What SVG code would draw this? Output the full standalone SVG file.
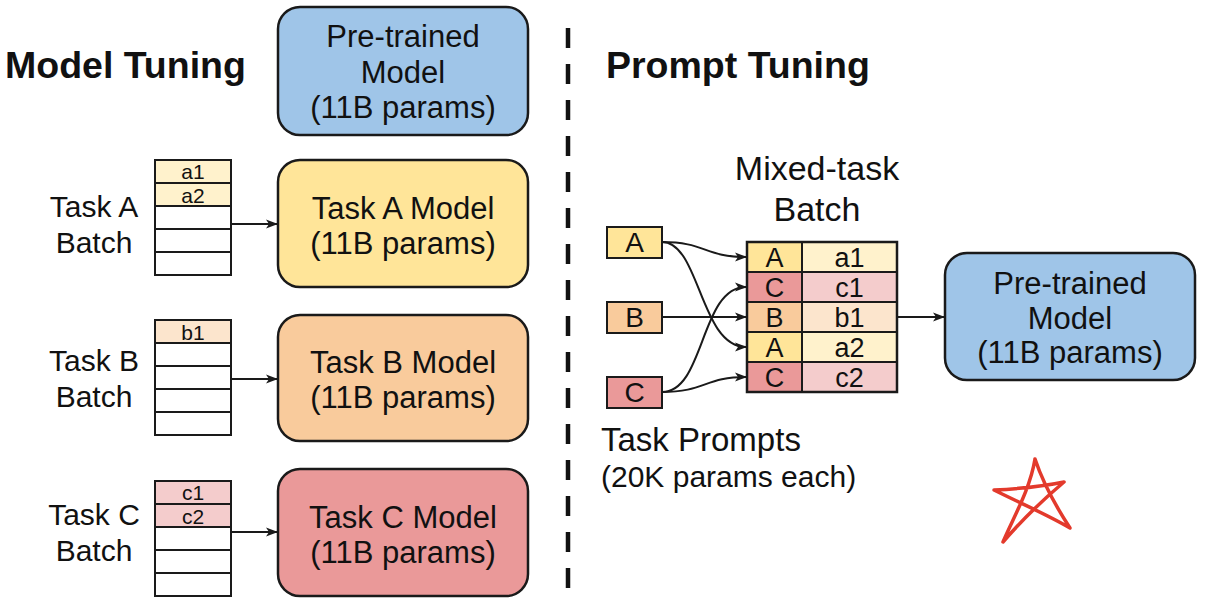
<svg xmlns="http://www.w3.org/2000/svg" width="1208" height="606" viewBox="0 0 1208 606">
<defs>
<style>
text{font-family:"Liberation Sans",Arial,sans-serif;fill:#111;}
.title{font-weight:bold;font-size:37.5px;}
.box{stroke:#1a1a1a;stroke-width:2.5;}
.mt{font-size:31px;text-anchor:middle;}
.lbl{font-size:30px;text-anchor:middle;}
.cell{stroke:#1a1a1a;stroke-width:2;}
.ct{font-size:21px;text-anchor:middle;}
.tt{font-size:27px;text-anchor:middle;}
.conn{fill:none;stroke:#1a1a1a;stroke-width:2;}
.blue{fill:#9fc5e8;}
.yel{fill:#ffe599;}
.ora{fill:#f9cb9c;}
.red{fill:#ea9999;}
.lyel{fill:#fff2cc;}
.lora{fill:#fce5cd;}
.lred{fill:#f4cccc;}
.white{fill:#ffffff;}
</style>
<marker id="arr" viewBox="0 0 12 10" refX="11" refY="5" markerWidth="12" markerHeight="10" markerUnits="userSpaceOnUse" orient="auto">
<path d="M0,0.5 L12,5 L0,9.5 L3,5 z" fill="#1a1a1a"/>
</marker>
</defs>
<rect width="1208" height="606" fill="#ffffff"/>

<text class="title" x="5" y="78">Model Tuning</text>
<text class="title" x="606" y="78">Prompt Tuning</text>

<line x1="568" y1="28" x2="568" y2="590" stroke="#111" stroke-width="4.5" stroke-dasharray="20 16"/>

<g id="pretrained-left">
<rect class="box blue" x="278" y="7" width="250" height="128" rx="22"/>
<text class="mt" x="403" y="47">Pre-trained</text>
<text class="mt" x="403" y="83">Model</text>
<text class="mt" x="403" y="118">(11B params)</text>
</g>

<g id="task-a-model">
<rect class="box yel" x="278" y="160" width="250" height="127" rx="22"/>
<text class="mt" x="403" y="219">Task A Model</text>
<text class="mt" x="403" y="254">(11B params)</text>
</g>
<g id="task-b-model">
<rect class="box ora" x="278" y="315" width="250" height="126" rx="22"/>
<text class="mt" x="403" y="373">Task B Model</text>
<text class="mt" x="403" y="408">(11B params)</text>
</g>
<g id="task-c-model">
<rect class="box red" x="278" y="469" width="250" height="127" rx="22"/>
<text class="mt" x="403" y="528">Task C Model</text>
<text class="mt" x="403" y="563">(11B params)</text>
</g>

<g id="task-a-batch">
<text class="lbl" x="94" y="217">Task A</text>
<text class="lbl" x="94" y="253">Batch</text>
<rect class="cell lyel" x="155" y="160" width="76" height="23"/>
<rect class="cell lyel" x="155" y="183" width="76" height="23"/>
<rect class="cell white" x="155" y="206" width="76" height="23"/>
<rect class="cell white" x="155" y="229" width="76" height="23"/>
<rect class="cell white" x="155" y="252" width="76" height="23"/>
<text class="ct" x="193" y="179">a1</text>
<text class="ct" x="193" y="203">a2</text>
</g>
<g id="task-b-batch">
<text class="lbl" x="94" y="371">Task B</text>
<text class="lbl" x="94" y="407">Batch</text>
<rect class="cell lora" x="155" y="320" width="76" height="23"/>
<rect class="cell white" x="155" y="343" width="76" height="23"/>
<rect class="cell white" x="155" y="366" width="76" height="23"/>
<rect class="cell white" x="155" y="389" width="76" height="23"/>
<rect class="cell white" x="155" y="412" width="76" height="23"/>
<text class="ct" x="193" y="340">b1</text>
</g>
<g id="task-c-batch">
<text class="lbl" x="94" y="525">Task C</text>
<text class="lbl" x="94" y="561">Batch</text>
<rect class="cell lred" x="155" y="481" width="76" height="23"/>
<rect class="cell lred" x="155" y="504" width="76" height="23"/>
<rect class="cell white" x="155" y="527" width="76" height="23"/>
<rect class="cell white" x="155" y="550" width="76" height="23"/>
<rect class="cell white" x="155" y="573" width="76" height="23"/>
<text class="ct" x="193" y="500">c1</text>
<text class="ct" x="193" y="524">c2</text>
</g>

<g id="prompt-a">
<rect class="cell yel" x="607" y="227" width="55" height="31"/>
<text class="tt" x="634.5" y="252" style="font-size:28px;">A</text>
</g>
<g id="prompt-b">
<rect class="cell ora" x="607" y="302" width="55" height="31"/>
<text class="tt" x="634.5" y="327" style="font-size:28px;">B</text>
</g>
<g id="prompt-c">
<rect class="cell red" x="607" y="377" width="55" height="31"/>
<text class="tt" x="634.5" y="402" style="font-size:28px;">C</text>
</g>

<g id="task-prompts-label">
<text x="601" y="451" style="font-size:33px;">Task Prompts</text>
<text x="601" y="487" style="font-size:30px;">(20K params each)</text>
</g>

<g id="mixed-batch">
<text class="mt" x="817" y="180" style="font-size:34px;">Mixed-task</text>
<text class="mt" x="817" y="221" style="font-size:34px;">Batch</text>
<rect class="cell yel" x="747" y="242" width="55" height="30"/>
<rect class="cell lyel" x="802" y="242" width="95" height="30"/>
<rect class="cell red" x="747" y="272" width="55" height="30"/>
<rect class="cell lred" x="802" y="272" width="95" height="30"/>
<rect class="cell ora" x="747" y="302" width="55" height="30"/>
<rect class="cell lora" x="802" y="302" width="95" height="30"/>
<rect class="cell yel" x="747" y="332" width="55" height="30"/>
<rect class="cell lyel" x="802" y="332" width="95" height="30"/>
<rect class="cell red" x="747" y="362" width="55" height="30"/>
<rect class="cell lred" x="802" y="362" width="95" height="30"/>
<rect x="747" y="242" width="150" height="150" fill="none" stroke="#1a1a1a" stroke-width="2.5"/>
<text class="tt" x="774.5" y="267">A</text><text class="tt" x="849.5" y="267">a1</text>
<text class="tt" x="774.5" y="297">C</text><text class="tt" x="849.5" y="297">c1</text>
<text class="tt" x="774.5" y="327">B</text><text class="tt" x="849.5" y="327">b1</text>
<text class="tt" x="774.5" y="357">A</text><text class="tt" x="849.5" y="357">a2</text>
<text class="tt" x="774.5" y="387">C</text><text class="tt" x="849.5" y="387">c2</text>
</g>

<g id="pretrained-right">
<rect class="box blue" x="945" y="253" width="250" height="127" rx="22"/>
<text class="mt" x="1070" y="294">Pre-trained</text>
<text class="mt" x="1070" y="329">Model</text>
<text class="mt" x="1070" y="363">(11B params)</text>
</g>

<g id="connectors">
<line class="conn" x1="231" y1="224" x2="277" y2="224" marker-end="url(#arr)"/>
<line class="conn" x1="231" y1="379" x2="277" y2="379" marker-end="url(#arr)"/>
<line class="conn" x1="231" y1="532" x2="277" y2="532" marker-end="url(#arr)"/>
<path class="conn" d="M662,242 C705,242 705,257 746,257" marker-end="url(#arr)"/>
<path class="conn" d="M662,242 C700,242 700,347 746,347" marker-end="url(#arr)"/>
<line class="conn" x1="662" y1="317" x2="746" y2="317" marker-end="url(#arr)"/>
<path class="conn" d="M662,392 C705,392 700,287 746,287" marker-end="url(#arr)"/>
<path class="conn" d="M662,392 C705,392 705,377 746,377" marker-end="url(#arr)"/>
<line class="conn" x1="897" y1="317" x2="944" y2="317" marker-end="url(#arr)"/>
</g>

<g id="star">
<path d="M1035,459 C1030,490 1012,520 1003,542 C1022,520 1045,498 1064,482 C1040,487 1015,489 994,490 C1020,503 1048,515 1070,528 C1055,505 1042,480 1035,459" fill="none" stroke="#e33a2c" stroke-width="3.5" stroke-linejoin="round" stroke-linecap="round"/>
</g>
</svg>
